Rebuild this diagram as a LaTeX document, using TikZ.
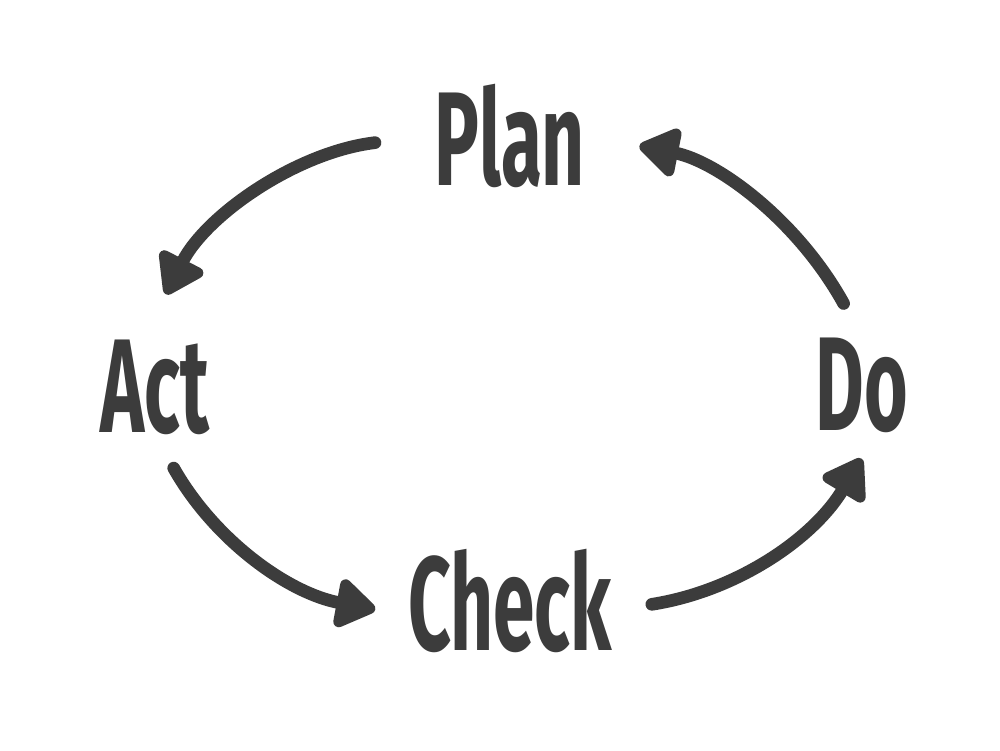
\documentclass[tikz,border=0pt]{standalone}
\usepackage{fontspec}
\setmainfont{Fira Sans}
\usetikzlibrary{arrows.meta}
\definecolor{ink}{HTML}{3C3C3C}
\tikzset{
  word/.style={inner sep=0pt, anchor=base, text=ink, xscale=0.56,
    font=\fontsize{38}{40}\selectfont\bfseries},
  cyc/.style={draw=ink, line width=3.6pt, line cap=round,
    -{Triangle[width=0.55cm,length=0.44cm,round]}}
}
\begin{document}
\begin{tikzpicture}
\fill[white] (0,0) rectangle (10,7.5);
\useasboundingbox (0,0) rectangle (10,7.5);
% the four steps
\node[word] (plan) at (5.1,5.65) {Plan};
\node[word] (act) at (1.55,3.18) {Act};
\node[word] (do) at (8.62,3.2) {Do};
\node[word] (check) at (5.1,1.0) {Check};
% the cycle
\draw[cyc, shorten <=0.6cm, shorten >=0.5cm] (plan.west) to[bend right=28] ([xshift=-0.12cm]act.north);
\draw[cyc, shorten <=0.38cm, shorten >=0.33cm] (act.south) to[bend right=25] ([yshift=-0.15cm]check.west);
\draw[cyc, shorten <=0.4cm, shorten >=0.3cm] ([yshift=-0.1cm]check.east) to[bend right=25] ([xshift=0.15cm]do.south);
\draw[cyc, shorten <=0.38cm, shorten >=0.55cm] (do.north) to[bend right=25] (plan.east);
\end{tikzpicture}
\end{document}
